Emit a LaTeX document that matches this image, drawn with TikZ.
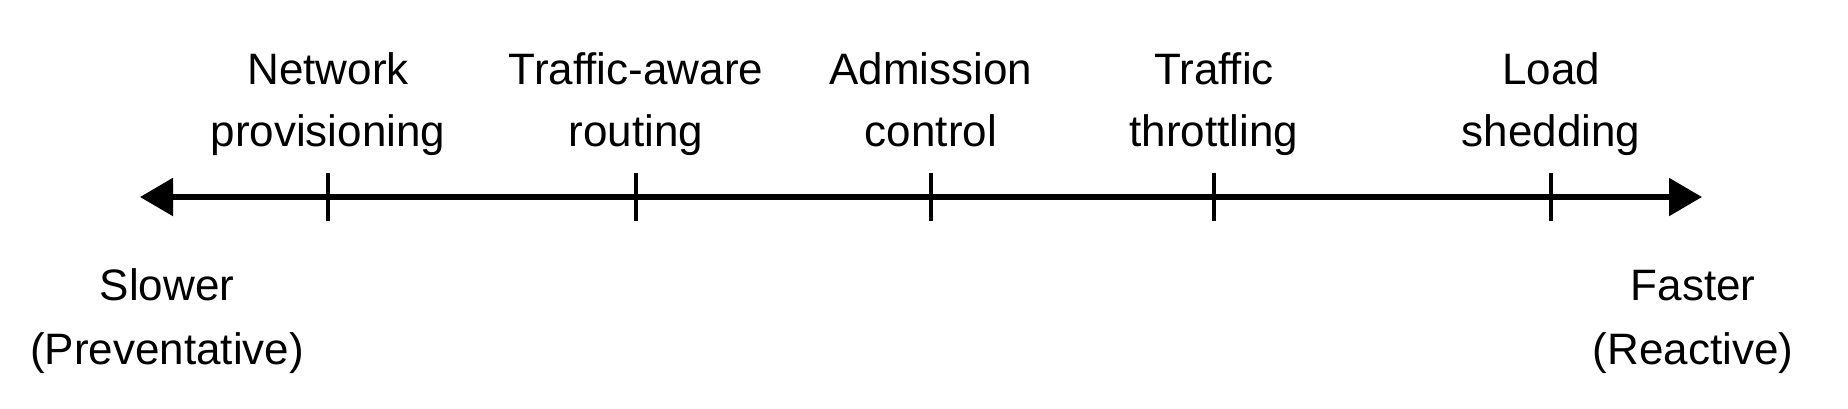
\documentclass[tikz,border=0pt]{standalone}
\usepackage{fontspec}
\setmainfont{Liberation Sans}
\usepackage{tikz}
\usetikzlibrary{arrows.meta,positioning}

\begin{document}
\begin{tikzpicture}[x=1pt, y=-1pt, >={Triangle[length=33pt, width=37pt]}]
      \useasboundingbox (0,0) rectangle (1848,408);
      % axis ends
      \coordinate (slow) at (140,197);
      \coordinate (fast) at (1702,197);
      \draw[<->, line width=5.5pt] (slow) -- (fast);
      % ticks and their labels
      \foreach \x/\name/\txt in {328/prov/{Network\\provisioning}, 636/route/{Traffic-aware\\routing}, 931/admit/{Admission\\control}, 1214/throttle/{Traffic\\throttling}, 1551/shed/{Load\\shedding}} {
        \coordinate (\name-top) at (\x,173);
        \coordinate (\name-bot) at (\x,221);
        \draw[line width=4pt] (\name-top) -- (\name-bot);
        \node[anchor=base, align=center, inner sep=0pt, font=\fontsize{44}{62}\selectfont] (\name) at (\x,146) {\txt};
      }
      \node[anchor=base, align=center, inner sep=0pt, font=\fontsize{44}{64}\selectfont] (slower) at (167,364) {Slower\\(Preventative)};
      \node[anchor=base, align=center, inner sep=0pt, font=\fontsize{44}{64}\selectfont] (faster) at (1693,364) {Faster\\(Reactive)};
    \end{tikzpicture}
\end{document}
